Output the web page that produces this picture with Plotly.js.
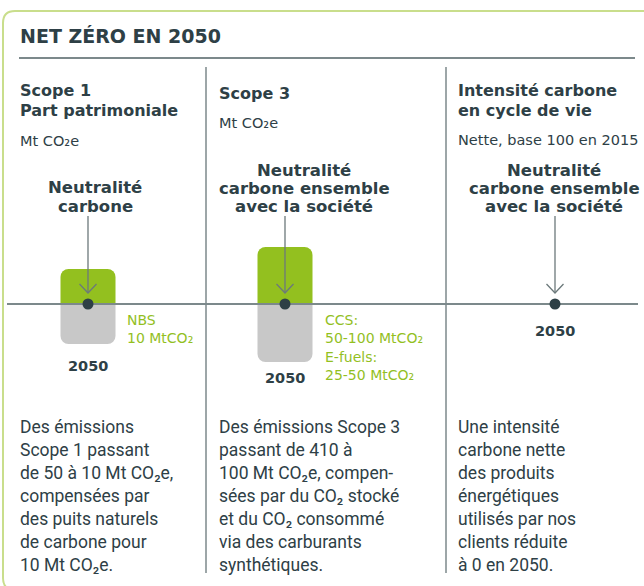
<!DOCTYPE html>
<html><head><meta charset="utf-8">
<script src="https://cdn.plot.ly/plotly-3.0.1.min.js"></script>
<style>html,body{margin:0;padding:0;background:#fff}#chart{width:644px;height:586px}</style>
</head><body><div id="chart"></div>
<script>
// ---------- data ----------
const columns = ['Scope 1 – Part patrimoniale', 'Scope 3', 'Intensité carbone en cycle de vie'];
const compensation = [35, 57, 0];      // green block (offsets / sinks)
const residual = [-40, -58, 0];        // grey block (residual emissions)
const netZero = [0, 0, 0];             // neutrality point in 2050
const targetYear = ['2050', '2050', '2050'];
const headers = [['Scope 1', 'Part patrimoniale'], ['Scope 3'], ['Intensité carbone', 'en cycle de vie']];
const units = ['Mt CO₂e', 'Mt CO₂e', 'Nette, base 100 en 2015'];
const goals = [['Neutralité', 'carbone'], ['Neutralité', 'carbone ensemble', 'avec la société'], ['Neutralité', 'carbone ensemble', 'avec la société']];
const offsetLabels = [['NBS', '10 MtCO₂'], ['CCS:', '50-100 MtCO₂', 'E-fuels:', '25-50 MtCO₂'], []];
const bodyText = [
  ['Des émissions', 'Scope 1 passant', 'de 50 à 10 Mt CO₂e,', 'compensées par', 'des puits naturels', 'de carbone pour', '10 Mt CO₂e.'],
  ['Des émissions Scope 3', 'passant de 410 à', '100 Mt CO₂e, compen-', 'sées par du CO₂ stocké', 'et du CO₂ consommé', 'via des carburants', 'synthétiques.'],
  ['Une intensité', 'carbone nette', 'des produits', 'énergétiques', 'utilisés par nos', 'clients réduite', 'à 0 en 2050.']
];
const title = 'NET ZÉRO EN 2050';

// ---------- layout constants ----------
const W = 644, H = 586, Y0 = 304;           // timeline pixel row
const Y = p => Y0 - p;                       // pixel row -> y units
const colX = [88, 285, 555];                 // marker centres
const colLeft = [18, 217, 456];              // text column left edges
const goalX = [95, 304, 554];
const yearY = [366, 378, 331];
const headerY = [[90, 110], [93], [90, 110]];
const unitY = [141, 123, 140];
const goalY = [[187, 206], [170, 188, 206], [170, 188, 206]];
const labelX = [125, 323];
const DARK = '#2e4046', GREEN = '#93c01f', LINE = '#7c898b', GREYBOX = '#c8c8c8', FRAME = '#c9de8c';
const HEAD = 'DejaVu Sans', BODY = 'Roboto';

const ann = [];
function txt(x, py, text, size, color, family, anchor, weight) {
  ann.push({x: x, y: Y(py), xref: 'x', yref: 'y', text: text, showarrow: false,
    xanchor: anchor || 'left', yanchor: 'middle', align: anchor || 'left',
    font: {family: family || HEAD, size: size, color: color || DARK, weight: weight || 'normal'}});
}
txt(18, 36, title, 19, DARK, HEAD, 'left', 'bold');
for (let i = 0; i < 3; i++) {
  headers[i].forEach((h, j) => txt(colLeft[i], headerY[i][j], h, 16, DARK, HEAD, 'left', 'bold'));
  txt(colLeft[i], unitY[i], units[i], 14.5);
  goals[i].forEach((g, j) => txt(goalX[i], goalY[i][j], g, 16.5, DARK, HEAD, 'center', 'bold'));
  txt(colX[i], yearY[i], targetYear[i], 14.5, DARK, HEAD, 'center', 'bold');
  offsetLabels[i].forEach((l, j) => txt(labelX[i], 320 + j * 18.3, l, 14, GREEN, HEAD));
  bodyText[i].forEach((l, j) => txt(colLeft[i], 427 + j * 23, l, 17.5, DARK, BODY));
}

// ---------- shapes ----------
const shapes = [];
const line = (x0, y0, x1, y1, w, c) => shapes.push({type: 'line', xref: 'x', yref: 'y', x0, y0: Y(y0), x1, y1: Y(y1), line: {color: c || LINE, width: w}});
const path = (pts, w, c) => shapes.push({type: 'path', xref: 'x', yref: 'y', path: pts, line: {color: c, width: w}});
// frame
path(`M ${W+5},${Y(11)} L 15,${Y(11)} Q 3,${Y(11)} 3,${Y(23)} L 3,${Y(578)} Q 3,${Y(590)} 15,${Y(590)}`, 2, FRAME);
line(19, 58, 635, 58, 2);
line(206, 67, 206, 573, 1.5);
line(446, 67, 446, 573, 1.5);
for (let i = 0; i < 3; i++) {
  const x = colX[i];
  line(x, 216, x, 293, 1.3, '#6c797b');
  path(`M ${x-8.5},${Y(284)} L ${x},${Y(293)} L ${x+8.5},${Y(284)}`, 1.3, '#6c797b');
}

// ---------- traces ----------
const keep = (arr) => arr.map((v, i) => v !== 0 ? i : -1).filter(i => i >= 0);
const gi = keep(compensation), ri = keep(residual);
const traces = [
  {type: 'bar', x: gi.map(i => colX[i]), y: gi.map(i => compensation[i]), width: 55,
   marker: {color: GREEN, line: {width: 0}}, hoverinfo: 'skip', textposition: 'none'},
  {type: 'bar', x: ri.map(i => colX[i]), y: ri.map(i => residual[i]), width: 55,
   marker: {color: GREYBOX, line: {width: 0}}, hoverinfo: 'skip', textposition: 'none'},
  {type: 'scatter', mode: 'lines', x: [7, 638], y: [0, 0], line: {color: LINE, width: 2}, hoverinfo: 'skip'},
  {type: 'scatter', mode: 'markers', x: colX, y: netZero, marker: {size: 11, color: DARK}, hoverinfo: 'skip', cliponaxis: false}
];

const layout = {
  width: W, height: H, margin: {l: 0, r: 0, t: 0, b: 0, pad: 0},
  paper_bgcolor: '#fff', plot_bgcolor: '#fff', showlegend: false,
  barmode: 'relative', barcornerradius: 8,
  xaxis: {range: [0, W], visible: false, fixedrange: true},
  yaxis: {range: [Y0 - H, Y0], visible: false, fixedrange: true},
  annotations: ann, shapes: shapes
};
Plotly.newPlot('chart', traces, layout, {staticPlot: true, displayModeBar: false});
</script></body></html>
